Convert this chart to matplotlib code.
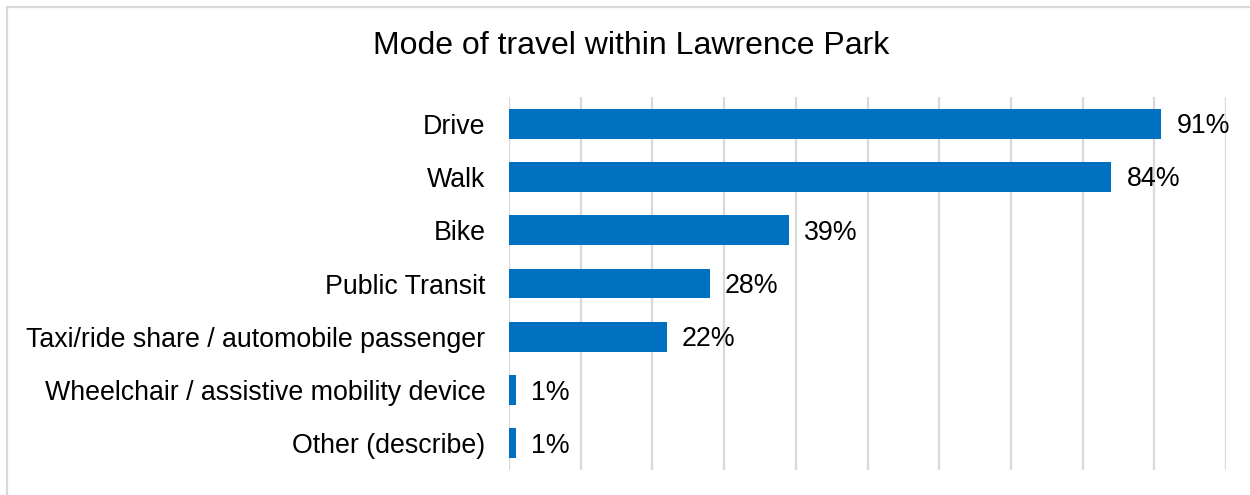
import matplotlib
matplotlib.use("Agg")
import matplotlib.pyplot as plt
from matplotlib.patches import Rectangle
from matplotlib.ticker import MultipleLocator

plt.rcParams["font.family"] = ["Liberation Sans", "DejaVu Sans"]

categories = [
    "Drive",
    "Walk",
    "Bike",
    "Public Transit",
    "Taxi/ride share / automobile passenger",
    "Wheelchair / assistive mobility device",
    "Other (describe)",
]
percent = [91, 84, 39, 28, 22, 1, 1]
title = "Mode of travel within Lawrence Park"

W, H = 1250, 495
fig = plt.figure(figsize=(W / 100, H / 100), dpi=100)

# Light grey chart-area border (open to the right and bottom)
fig.patches.append(Rectangle((7 / W, -0.1), 1.2, 1 - 7 / H + 0.1,
                             transform=fig.transFigure, fill=False,
                             edgecolor="#d9d9d9", linewidth=1.6))

ax = fig.add_axes([509 / W, 1 - 470 / H, (1226 - 509) / W, (470 - 97) / H])
y = list(range(len(categories)))
ax.barh(y, percent, height=0.56, color="#0070C0", zorder=3)

ax.set_xlim(0, 100)
ax.set_ylim(len(categories) - 0.5, -0.5)
ax.xaxis.set_major_locator(MultipleLocator(10))
ax.grid(axis="x", color="#d9d9d9", linewidth=1.6, zorder=0)
ax.set_xticklabels([])
ax.tick_params(axis="x", length=0)
ax.set_yticks(y)
ax.set_yticklabels(categories, fontsize=19.3, color="#000000")
ax.tick_params(axis="y", length=0, pad=17)
for s in ax.spines.values():
    s.set_visible(False)

for yi, v in zip(y, percent):
    ax.annotate(f"{v}%", (v, yi), xytext=(11, -1.8), textcoords="offset points",
                va="center", ha="left", fontsize=19.3, color="#000000")

fig.text(631 / W, 1 - 46 / H, title, ha="center", va="center",
         fontsize=23, color="#000000")

fig.savefig("out.png", dpi=100, facecolor="white")
